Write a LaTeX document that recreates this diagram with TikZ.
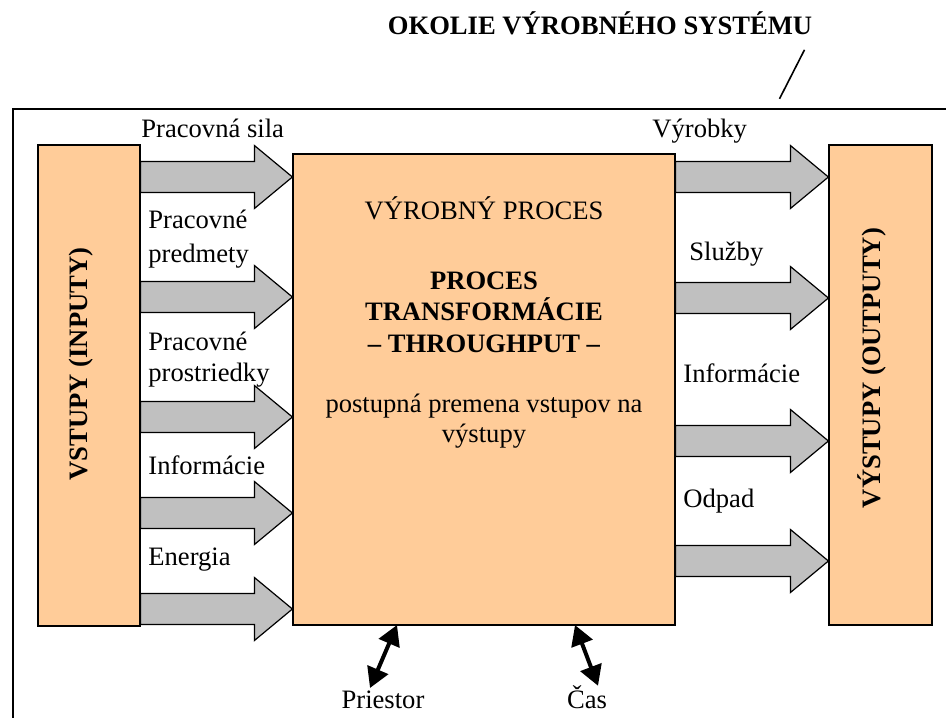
\documentclass[tikz,border=0pt]{standalone}
\usepackage{fontspec}
\setmainfont{Liberation Serif}
\usetikzlibrary{calc,arrows.meta}

\definecolor{oranzova}{HTML}{FFCC99}
\definecolor{siva}{HTML}{C0C0C0}

\tikzset{
  kvader/.style={draw=black, fill=oranzova, line width=0.6pt, inner sep=0pt},
  blok/.style={draw=black, fill=siva, line width=0.6pt},
  popis/.style={anchor=base west, inner sep=0pt},
  stred/.style={anchor=base, inner sep=0pt},
  tucne/.style={font=\fontsize{13.3}{15.75}\selectfont\bfseries},
  dvojsipka/.style={{Triangle[length=10pt,width=11pt]}-{Triangle[length=10pt,width=11pt]}, line width=2pt}
}

% hruba sipka z uzla #1 do uzla #2 vo vyske #3
\newcommand{\blokova}[3]{%
  \draw[blok] let \p1=(#1.east |- 0,#3), \p2=(#2.west |- 0,#3) in
    (\x1,\y1+7.75pt) -- (\x2-19pt,\y1+7.75pt) -- (\x2-19pt,\y1+15.75pt) -- (\x2,\y1)
    -- (\x2-19pt,\y1-15.75pt) -- (\x2-19pt,\y1-7.75pt) -- (\x1,\y1-7.75pt) -- cycle;}

\begin{document}
\begin{tikzpicture}[x=0.5pt,y=-0.5pt,font=\fontsize{13.3}{15.75}\selectfont]
  \useasboundingbox (0,0) rectangle (946,717);

  % okolie
  \draw[line width=0.8pt] (13,109) rectangle (960,740);
  \node[stred,tucne] (okolie) at (600,35) {OKOLIE VÝROBNÉHO SYSTÉMU};
  \draw[line width=0.8pt] ($(okolie.south east)+(-8,14)$) -- ++(-25,49);

  % bloky
  \node[kvader, minimum width=51pt, minimum height=240.5pt]  (vstupy)  at (89,385.5)  {};
  \node[kvader, minimum width=191pt, minimum height=235.5pt] (proces)  at (484,389.5) {};
  \node[kvader, minimum width=51.5pt, minimum height=240pt]  (vystupy) at (880.5,385) {};

  \node[stred,tucne,rotate=90] (vstupytext)  at (87,364)  {VSTUPY (INPUTY)};
  \node[stred,tucne,rotate=90] (vystupytext) at (880,368) {VÝSTUPY (OUTPUTY)};

  \node[stred]       (nazov) at (484,219) {VÝROBNÝ PROCES};
  \node[stred,tucne] (tr1)   at (484,289) {PROCES};
  \node[stred,tucne] (tr2)   at (484,320) {TRANSFORMÁCIE};
  \node[stred,tucne] (tr3)   at (484,352) {– THROUGHPUT –};
  \node[stred]       (post1) at (484,412) {postupná premena vstupov na};
  \node[stred]       (post2) at (484,442) {výstupy};

  % vstupy a vystupy
  \foreach \h in {177,297,417,513,609} {\blokova{vstupy}{proces}{\h}}
  \foreach \h in {177,298,441,561} {\blokova{proces}{vystupy}{\h}}

  \node[popis] (l1)  at (141,137) {Pracovná sila};
  \node[popis] (l2a) at (148,228) {Pracovné};
  \node[popis] (l2b) at (148,262) {predmety};
  \node[popis] (l3a) at (148,350) {Pracovné};
  \node[popis] (l3b) at (148,381) {prostriedky};
  \node[popis] (l4)  at (148,474) {Informácie};
  \node[popis] (l5)  at (148,565) {Energia};

  \node[popis] (r1) at (652,137) {Výrobky};
  \node[popis] (r2) at (689,260) {Služby};
  \node[popis] (r3) at (683,382) {Informácie};
  \node[popis] (r4) at (683,507) {Odpad};

  % priestor a cas
  \node[stred] (priestor) at (383,708) {Priestor};
  \node[stred] (cas)      at (587,708) {Čas};
  \coordinate (pbod) at (397,625);
  \coordinate (cbod) at (575,625);

  \path[dvojsipka] (pbod) edge ([xshift=-6.5pt,yshift=1pt]priestor.north)
                   (cbod) edge ([xshift=5.5pt,yshift=-0.5pt]cas.north);
\end{tikzpicture}
\end{document}
